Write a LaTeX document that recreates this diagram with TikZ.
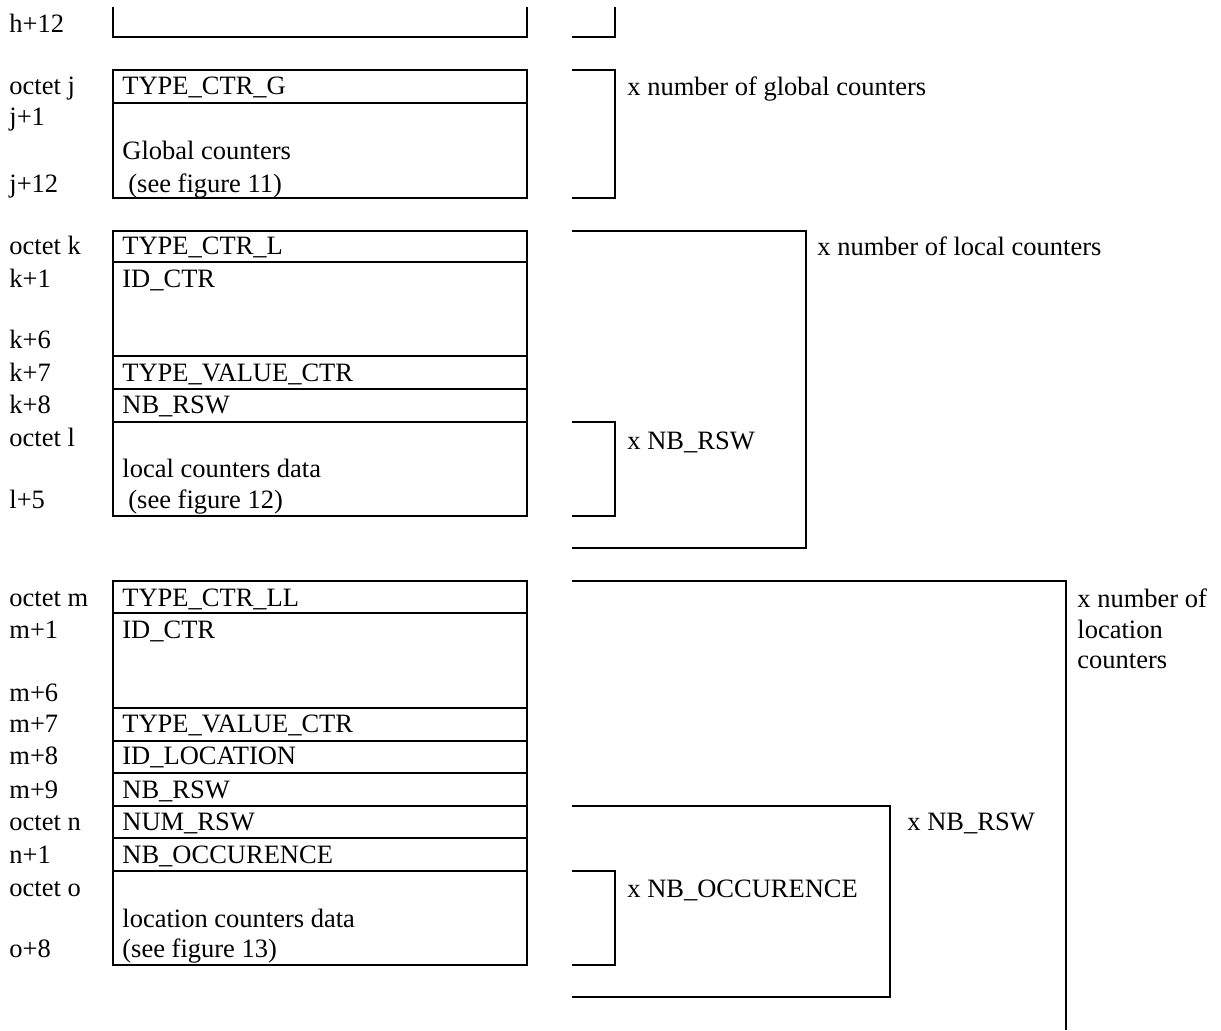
\documentclass[tikz,border=0pt]{standalone}
\usepackage{fontspec}
\setmainfont{Liberation Serif}
\newcommand\fld[4]{\node[txt] (#1) at (#2,#3) {#4};}
\begin{document}
\begin{tikzpicture}[x=0.5pt,y=-0.5pt,
  frame/.style={line width=1pt},
  txt/.style={anchor=base west, inner sep=0pt, font=\fontsize{13.25}{15}\selectfont}]
\useasboundingbox (0,0) rectangle (1221,1030);

% ---- tail of the previous block (h+12)
\draw[frame] (113,7) -- (113,37) -- (527,37) -- (527,7);
\draw[frame] (572,37) -- (615,37) -- (615,7);
\fld{oh12}{9}{32}{h+12}

% ---- global counters
\draw[frame] (113,70) rectangle (527,198);
\draw[frame] (113,103) -- (527,103);
\draw[frame] (572,70) -- (615,70) -- (615,198) -- (572,198);
\fld{oj}{9}{94}{octet j}
\fld{oj1}{9}{125}{j+1}
\fld{oj12}{9}{192}{j+12}
\fld{tctrg}{122}{94}{TYPE\_CTR\_G}
\fld{glob}{122}{159}{Global counters}
\fld{glob2}{128}{192}{(see figure 11)}
\fld{xglob}{627}{95}{x number of global counters}

% ---- local counters
\draw[frame] (113,231) rectangle (527,516);
\foreach \yy in {262,356,389,422} \draw[frame] (113,\yy) -- (527,\yy);
\draw[frame] (572,231) -- (806,231) -- (806,548) -- (572,548);
\draw[frame] (572,422) -- (615,422) -- (615,516) -- (572,516);
\fld{ok}{9}{254}{octet k}
\fld{ok1}{9}{287}{k+1}
\fld{ok6}{9}{348}{k+6}
\fld{ok7}{9}{381}{k+7}
\fld{ok8}{9}{413}{k+8}
\fld{ol}{9}{446}{octet l}
\fld{ol5}{9}{508}{l+5}
\fld{tctrl}{122}{254}{TYPE\_CTR\_L}
\fld{idctrk}{122}{287}{ID\_CTR}
\fld{tvk}{122}{381}{TYPE\_VALUE\_CTR}
\fld{nbk}{122}{413}{NB\_RSW}
\fld{lcd}{122}{477}{local counters data}
\fld{lcd2}{128}{508}{(see figure 12)}
\fld{xloc}{817}{255}{x number of local counters}
\fld{xnbk}{627}{449}{x NB\_RSW}

% ---- location counters
\draw[frame] (113,581) rectangle (527,965);
\foreach \yy in {613,708,741,773,806,838,871} \draw[frame] (113,\yy) -- (527,\yy);
\draw[frame] (572,581) -- (1066,581) -- (1066,1030);
\draw[frame] (572,806) -- (890,806) -- (890,997) -- (572,997);
\draw[frame] (572,871) -- (615,871) -- (615,965) -- (572,965);
\fld{om}{9}{606}{octet m}
\fld{om1}{9}{638}{m+1}
\fld{om6}{9}{701}{m+6}
\fld{om7}{9}{732}{m+7}
\fld{om8}{9}{764}{m+8}
\fld{om9}{9}{798}{m+9}
\fld{on}{9}{830}{octet n}
\fld{on1}{9}{863}{n+1}
\fld{oo}{9}{896}{octet o}
\fld{oo8}{9}{957}{o+8}
\fld{tctrll}{122}{606}{TYPE\_CTR\_LL}
\fld{idctrm}{122}{638}{ID\_CTR}
\fld{tvm}{122}{732}{TYPE\_VALUE\_CTR}
\fld{idloc}{122}{764}{ID\_LOCATION}
\fld{nbm}{122}{798}{NB\_RSW}
\fld{numrsw}{122}{830}{NUM\_RSW}
\fld{nbocc}{122}{863}{NB\_OCCURENCE}
\fld{lccd}{122}{927}{location counters data}
\fld{lccd2}{122}{957}{(see figure 13)}
\fld{xlc1}{1077}{607}{x number of}
\fld{xlc2}{1077}{638}{location}
\fld{xlc3}{1077}{668}{counters}
\fld{xnbm}{907}{830}{x NB\_RSW}
\fld{xocc}{627}{897}{x NB\_OCCURENCE}
\end{tikzpicture}
\end{document}
